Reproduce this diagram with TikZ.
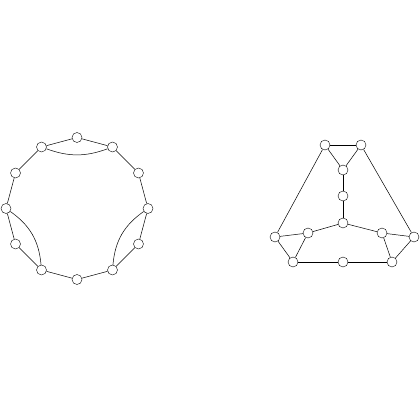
\documentclass[tikz,border=0pt]{standalone}

\begin{document}
\begin{tikzpicture}[
    x=1pt, y=1pt,
    vertex/.style={
        draw,
        circle,
        inner sep=0pt,
        minimum size=10pt
    },
    edge/.style={line width=0.5pt},
    heavy/.style={line width=0.9pt}
]
\useasboundingbox (0,0) rectangle (420,420);

% Left graph: 12-cycle
\foreach \i in {0,...,11} {
    \node[vertex] (a\i) at ([shift={(77,211.5)}]\i*30:71) {};
}

% Right graph
\node[vertex] (tl) at (325,275) {};
\node[vertex] (tr) at (361,275) {};
\node[vertex] (um) at (343,250) {};
\node[vertex] (mid) at (343,224) {};
\node[vertex] (ctr) at (343,197) {};
\node[vertex] (li) at (308,187) {};
\node[vertex] (ri) at (382,187) {};
\node[vertex] (fl) at (275,183) {};
\node[vertex] (fr) at (414,183) {};
\node[vertex] (bl) at (293,158) {};
\node[vertex] (bm) at (343,158) {};
\node[vertex] (br) at (392,158) {};

% Edges
\foreach \i [evaluate=\i as \j using {int(mod(\i+1,12))}] in {0,...,11} {
    \draw[edge] (a\i) -- (a\j);
}
\draw[edge] (a2) to[bend left=20] (a4);
\draw[edge] (a6) to[bend left=25] (a8);
\draw[edge] (a10) to[bend left=25] (a0);

\draw[edge] (tl) -- (tr);
\draw[edge] (tl) -- (um);
\draw[edge] (tr) -- (um);
\draw[edge] (um) -- (mid);
\draw[edge] (mid) -- (ctr);
\draw[edge] (ctr) -- (li);
\draw[edge] (ctr) -- (ri);
\draw[edge] (li) -- (fl);
\draw[edge] (li) -- (bl);
\draw[edge] (fl) -- (bl);
\draw[edge] (ri) -- (fr);
\draw[edge] (ri) -- (br);
\draw[edge] (fr) -- (br);
\draw[edge] (tl) -- (fl);
\draw[edge] (tr) -- (fr);
\draw[heavy] (bl) -- (bm);
\draw[heavy] (bm) -- (br);

\end{tikzpicture}
\end{document}
